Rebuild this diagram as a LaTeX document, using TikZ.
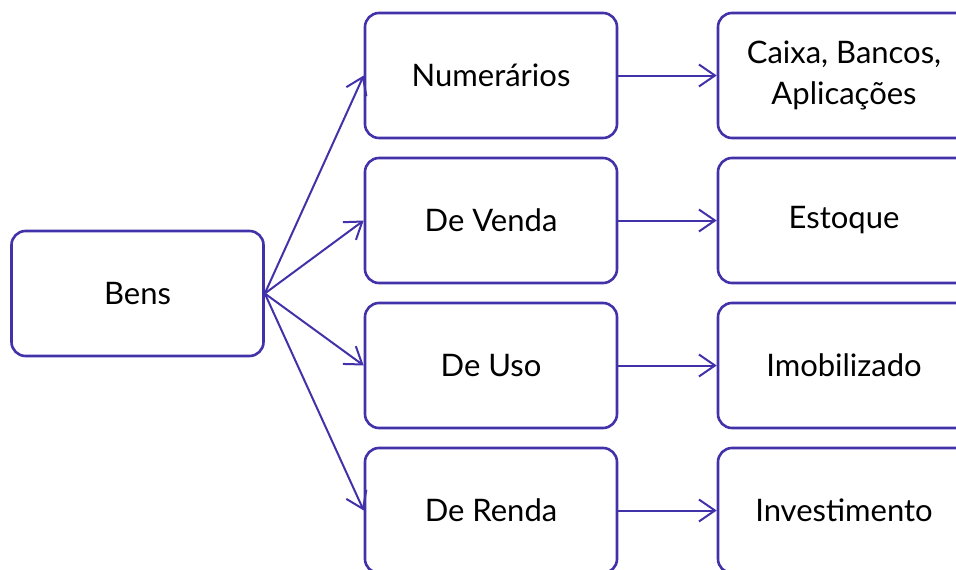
\documentclass[tikz,border=0pt]{standalone}
\usepackage{fontspec}
\setmainfont{Lato}
\usetikzlibrary{arrows.meta}
\definecolor{edge}{RGB}{66,50,170}
\tikzset{
  box/.style={draw=edge, line width=2.6pt, rounded corners=14pt, minimum width=252pt, minimum height=125pt, align=center, font=\fontsize{31}{41}\selectfont, text=black, inner sep=0pt},
  link/.style={draw=edge, line width=2pt, -{Straight Barb[length=16pt,width=22pt,line width=2pt]}}
}
\begin{document}
\begin{tikzpicture}[x=1pt,y=1pt]
\clip (0,0) rectangle (956,-570);
\fill[white] (0,0) rectangle (956,-570);
\node[box] (bens) at (137.5,-293.5) {Bens};
\node[box] (num) at (491,-75.5) {Numerários};
\node[box] (ven) at (491,-220.5) {De Venda};
\node[box] (uso) at (491,-365.5) {De Uso};
\node[box] (ren) at (491,-510.5) {De Renda};
\node[box] (cai) at (844,-75.5) {Caixa, Bancos,\\Aplicações};
\node[box] (est) at (844,-220.5) {Estoque};
\node[box] (imo) at (844,-365.5) {Imobilizado};
\node[box] (inv) at (844,-510.5) {Investimento};
\foreach \m in {num,ven,uso,ren} \draw[link] (bens.east) -- (\m.west);
\draw[link] (num) -- (cai);
\draw[link] (ven) -- (est);
\draw[link] (uso) -- (imo);
\draw[link] (ren) -- (inv);
\end{tikzpicture}
\end{document}
